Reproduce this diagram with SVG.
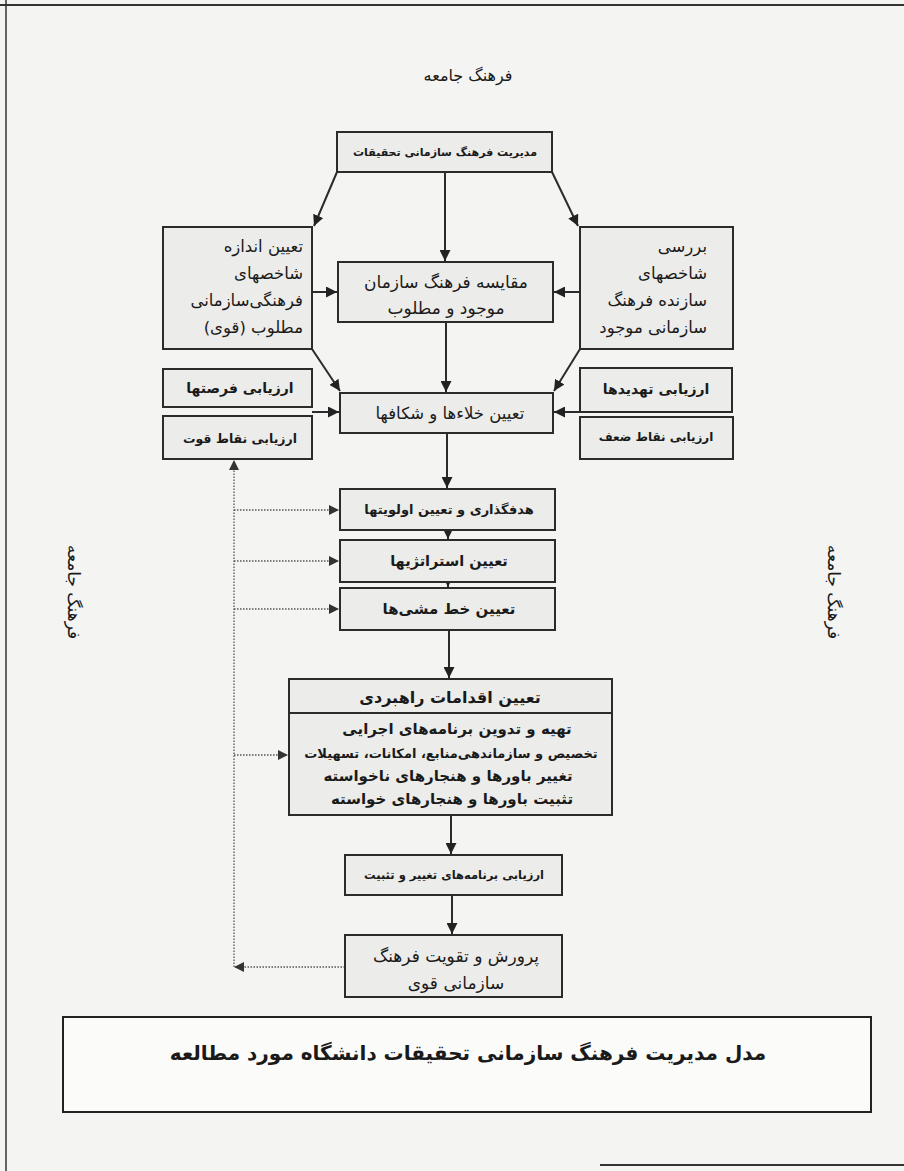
<svg xmlns="http://www.w3.org/2000/svg" width="904" height="1171" viewBox="0 0 904 1171">
<defs>
<style>
.bx{fill:#ececea;stroke:#2b2b2b;stroke-width:2}
.t{font-family:"DejaVu Sans","Noto Sans",sans-serif;fill:#1a1a1a;direction:rtl}
.c{text-anchor:middle}
.r{text-anchor:start}
.b{font-weight:bold}
.ln{stroke:#2b2b2b;stroke-width:2;fill:none}
.dt{stroke:#555;stroke-width:1.3;stroke-dasharray:1.5 1.5;fill:none}
</style>
<marker id="ah" viewBox="0 0 10 10" refX="10" refY="5" markerWidth="11" markerHeight="11" orient="auto" markerUnits="userSpaceOnUse"><path d="M0,0 L10,5 L0,10 z" fill="#222"/></marker>
<marker id="ahs" viewBox="0 0 10 10" refX="10" refY="5" markerWidth="10" markerHeight="10" orient="auto" markerUnits="userSpaceOnUse"><path d="M0,0 L10,5 L0,10 z" fill="#333"/></marker>
</defs>
<rect x="0" y="0" width="904" height="1171" fill="#f4f4f2"/>
<g id="page-border">
<line x1="0" y1="5" x2="904" y2="5" stroke="#333" stroke-width="2"/>
<line x1="6" y1="0" x2="6" y2="1171" stroke="#333" stroke-width="1.5"/>
<line x1="600" y1="1165" x2="904" y2="1165" stroke="#333" stroke-width="2"/>
</g>
<g id="label-top"><text class="t c" x="468" y="81" font-size="16">فرهنگ جامعه</text></g>
<g id="label-left"><text class="t c" x="0" y="0" font-size="17" transform="translate(68,592) rotate(90)">فرهنگ جامعه</text></g>
<g id="label-right"><text class="t c" x="0" y="0" font-size="17" transform="translate(828,592) rotate(90)">فرهنگ جامعه</text></g>

<g id="connectors">
<line class="ln" x1="445" y1="172" x2="445" y2="261" marker-end="url(#ah)"/>
<line class="ln" x1="337" y1="172" x2="314" y2="226" marker-end="url(#ah)"/>
<line class="ln" x1="552" y1="172" x2="578" y2="226" marker-end="url(#ah)"/>
<line class="ln" x1="312" y1="292" x2="337" y2="292" marker-end="url(#ah)"/>
<line class="ln" x1="580" y1="292" x2="554" y2="292" marker-end="url(#ah)"/>
<line class="ln" x1="446" y1="322" x2="446" y2="392" marker-end="url(#ah)"/>
<line class="ln" x1="312" y1="349" x2="340" y2="391" marker-end="url(#ah)"/>
<line class="ln" x1="580" y1="349" x2="554" y2="391" marker-end="url(#ah)"/>
<line class="ln" x1="312" y1="412" x2="339" y2="412" marker-end="url(#ah)"/>
<line class="ln" x1="580" y1="412" x2="554" y2="412" marker-end="url(#ah)"/>
<line class="ln" x1="447" y1="433" x2="447" y2="488" marker-end="url(#ah)"/>
<line class="ln" x1="448" y1="529" x2="448" y2="539" marker-end="url(#ah)"/>
<line class="ln" x1="448" y1="581" x2="448" y2="587" marker-end="url(#ah)"/>
<line class="ln" x1="449" y1="630" x2="449" y2="678" marker-end="url(#ah)"/>
<line class="ln" x1="451" y1="815" x2="451" y2="854" marker-end="url(#ah)"/>
<line class="ln" x1="452" y1="895" x2="452" y2="934" marker-end="url(#ah)"/>
<line class="dt" x1="345" y1="967" x2="234" y2="967" marker-end="url(#ahs)"/>
<line class="dt" x1="234" y1="967" x2="234" y2="460" marker-end="url(#ahs)"/>
<line class="dt" x1="234" y1="510" x2="339" y2="510" marker-end="url(#ahs)"/>
<line class="dt" x1="234" y1="561" x2="339" y2="561" marker-end="url(#ahs)"/>
<line class="dt" x1="234" y1="609" x2="339" y2="609" marker-end="url(#ahs)"/>
<line class="dt" x1="234" y1="755" x2="288" y2="755" marker-end="url(#ahs)"/>
</g>

<g id="n-top"><rect class="bx" x="337" y="132" width="215" height="40"/><text class="t c b" x="445" y="156" font-size="11">مدیریت فرهنگ سازمانی تحقیقات</text></g>

<g id="n-desired"><rect class="bx" x="163" y="227" width="149" height="122"/>
<text class="t r" font-size="16.5"><tspan x="303" y="252">تعیین اندازه</tspan><tspan x="303" y="279">شاخصهای</tspan><tspan x="303" y="306">فرهنگی‌سازمانی</tspan><tspan x="303" y="333">مطلوب (قوی)</tspan></text></g>

<g id="n-existing"><rect class="bx" x="580" y="227" width="153" height="122"/>
<text class="t r" font-size="16.5"><tspan x="707" y="252">بررسی</tspan><tspan x="707" y="279">شاخصهای</tspan><tspan x="707" y="306">سازنده فرهنگ</tspan><tspan x="707" y="333">سازمانی موجود</tspan></text></g>

<g id="n-compare"><rect class="bx" x="338" y="262" width="215" height="60"/>
<text class="t c" font-size="17"><tspan x="446" y="288">مقایسه فرهنگ سازمان</tspan><tspan x="446" y="314">موجود و مطلوب</tspan></text></g>

<g id="n-opp"><rect class="bx" x="163" y="369" width="149" height="38"/><text class="t c b" x="240" y="393" font-size="14">ارزیابی فرصتها</text></g>
<g id="n-str"><rect class="bx" x="163" y="416" width="149" height="43"/><text class="t c b" x="240" y="443" font-size="12.5">ارزیابی نقاط قوت</text></g>
<g id="n-thr"><rect class="bx" x="580" y="368" width="152" height="44"/><text class="t c b" x="656" y="394" font-size="14">ارزیابی تهدیدها</text></g>
<g id="n-weak"><rect class="bx" x="580" y="417" width="153" height="42"/><text class="t c b" x="656" y="441" font-size="12">ارزیابی نقاط ضعف</text></g>

<g id="n-gap"><rect class="bx" x="340" y="393" width="213" height="40"/><text class="t c" x="450" y="419" font-size="16.5">تعیین خلاءها و شکافها</text></g>

<g id="n-goal"><rect class="bx" x="340" y="489" width="215" height="41"/><text class="t c b" x="449" y="514" font-size="13">هدفگذاری و تعیین اولویتها</text></g>
<g id="n-strat"><rect class="bx" x="340" y="540" width="215" height="42"/><text class="t c b" x="449" y="566" font-size="14.5">تعیین استراتژیها</text></g>
<g id="n-policy"><rect class="bx" x="340" y="588" width="215" height="42"/><text class="t c b" x="449" y="614" font-size="15">تعیین خط مشی‌ها</text></g>

<g id="n-actions"><rect class="bx" x="289" y="679" width="323" height="136"/><line x1="289" y1="713" x2="612" y2="713" stroke="#2b2b2b" stroke-width="2"/>
<text class="t c b" x="450" y="703" font-size="16">تعیین اقدامات راهبردی</text>
<text class="t c b" font-size="15"><tspan x="457" y="734">تهیه و تدوین برنامه‌های اجرایی</tspan><tspan x="451" y="758" font-size="13">تخصیص و سازماندهی‌منابع، امکانات، تسهیلات</tspan><tspan x="448" y="781">تغییر باورها و هنجارهای ناخواسته</tspan><tspan x="452" y="804">تثبیت باورها و هنجارهای خواسته</tspan></text></g>

<g id="n-eval"><rect class="bx" x="345" y="855" width="217" height="40"/><text class="t c b" x="454" y="879" font-size="11.5">ارزیابی برنامه‌های تغییر و تثبیت</text></g>
<g id="n-nurture"><rect class="bx" x="345" y="935" width="217" height="62"/>
<text class="t c" font-size="17"><tspan x="456" y="962">پرورش و تقویت فرهنگ</tspan><tspan x="456" y="989">سازمانی قوی</tspan></text></g>

<g id="caption"><rect x="63" y="1017" width="808" height="95" fill="#fbfbfa" stroke="#222" stroke-width="2"/>
<text class="t c b" x="468" y="1060" font-size="20">مدل مدیریت فرهنگ سازمانی تحقیقات دانشگاه مورد مطالعه</text></g>
</svg>
